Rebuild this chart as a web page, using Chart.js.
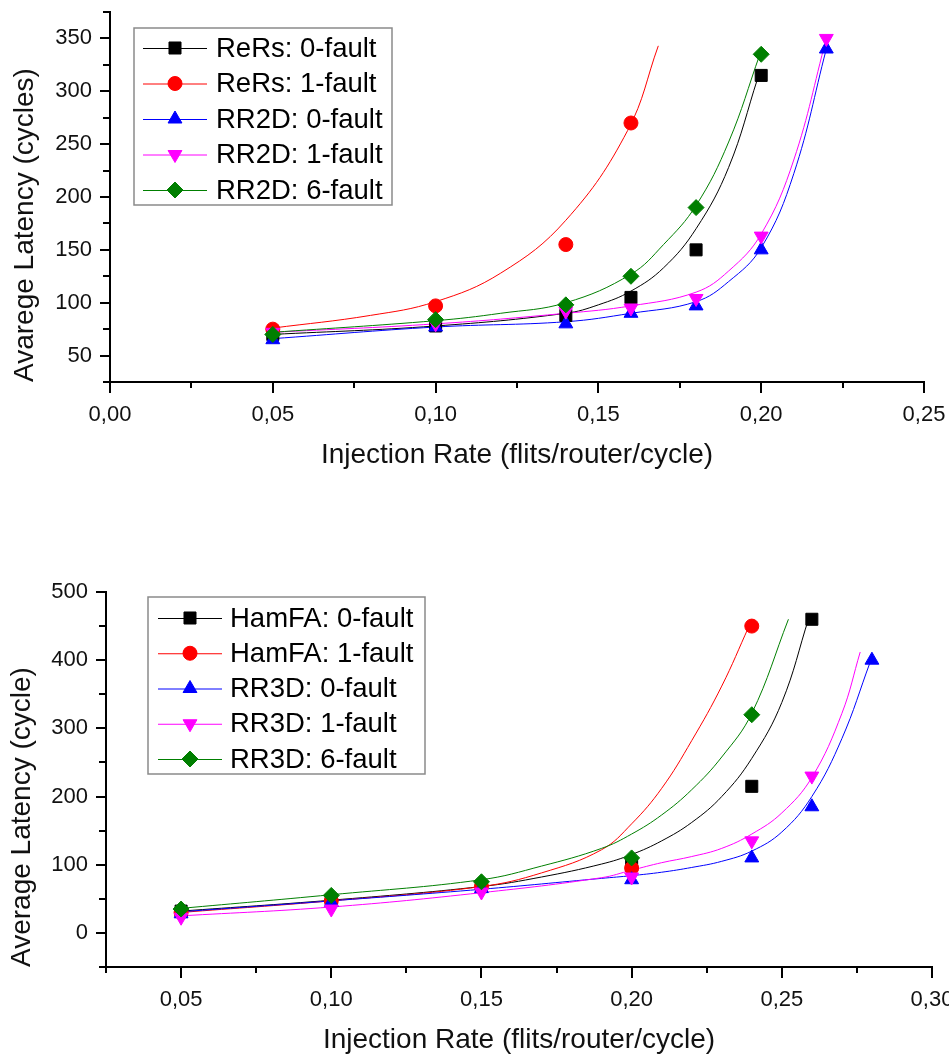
<!DOCTYPE html>
<html><head><meta charset="utf-8">
<script src="https://cdn.jsdelivr.net/npm/chart.js@4.4.0/dist/chart.umd.min.js"></script>
<style>
html,body{margin:0;padding:0;background:#fff;width:949px;height:1054px;overflow:hidden;}
#c1{position:absolute;left:0;top:0;}
#c2{position:absolute;left:0;top:560px;}
</style></head><body>
<canvas id="c1" width="949" height="490"></canvas>
<canvas id="c2" width="949" height="494"></canvas>
<script>
// ---------- Top chart data ----------
const topX = [0.05, 0.10, 0.14, 0.16, 0.18, 0.20, 0.22];
const topLabels = ['ReRs: 0-fault', 'ReRs: 1-fault', 'RR2D: 0-fault', 'RR2D: 1-fault', 'RR2D: 6-fault'];
const topReRs0 = [70, 78, 88, 105, 150, 315, null];
const topReRs1 = [75, 97, 155, 270, null, null, null];
const topRR2D0 = [65, 77, 80, 90, 97, 150, 340];
const topRR2D1 = [72, 80, 92, 95, 104, 163, 350];
const topRR2D6 = [70, 84, 98, 125, 190, 335, null];
// fitted curves
const fitTopReRs0X = [0.05, 0.10, 0.14, 0.15, 0.16, 0.17, 0.18, 0.19, 0.199];
const fitTopReRs0Y = [70, 78, 90, 98, 111, 133, 170, 228, 313];
const fitTopReRs1X = [0.05, 0.08, 0.10, 0.12, 0.14, 0.159, 0.1684];
const fitTopReRs1Y = [76, 88, 101, 128, 178, 263, 343];
const fitTopRR2D0X = [0.05, 0.10, 0.14, 0.16, 0.18, 0.19, 0.20, 0.21, 0.22];
const fitTopRR2D0Y = [66, 77, 82, 90, 101, 120, 152, 222, 340];
const fitTopRR2D1X = [0.05, 0.10, 0.14, 0.16, 0.18, 0.19, 0.20, 0.21, 0.22];
const fitTopRR2D1Y = [72, 80, 90, 97, 110, 130, 165, 235, 350];
const fitTopRR2D6X = [0.05, 0.10, 0.12, 0.14, 0.16, 0.17, 0.18, 0.19, 0.1996];
const fitTopRR2D6Y = [72, 83, 90, 100, 127, 155, 192, 252, 335];
const topYTitle = 'Avarege Latency (cycles)';
const xTitle = 'Injection Rate (flits/router/cycle)';

// ---------- Bottom chart data ----------
const botX = [0.05, 0.10, 0.15, 0.20, 0.24, 0.26, 0.28];
const botLabels = ['HamFA: 0-fault', 'HamFA: 1-fault', 'RR3D: 0-fault', 'RR3D: 1-fault', 'RR3D: 6-fault'];
const botHamFA0 = [32, 48, 68, 100, 215, 460, null];
const botHamFA1 = [30, 47, 68, 95, 450, null, null];
const botRR3D0 = [28, 45, 65, 78, 110, 185, 400];
const botRR3D1 = [23, 35, 60, 82, 135, 230, null];
const botRR3D6 = [35, 55, 75, 110, 320, null, null];
const fitBotHamFA0X = [0.05, 0.10, 0.15, 0.17, 0.19, 0.20, 0.21, 0.22, 0.23, 0.24, 0.25, 0.259];
const fitBotHamFA0Y = [32, 48, 68, 82, 101, 115, 135, 162, 200, 256, 338, 462];
const fitBotHamFA1X = [0.05, 0.10, 0.15, 0.17, 0.19, 0.20, 0.21, 0.22, 0.23, 0.239];
const fitBotHamFA1Y = [30, 47, 68, 88, 122, 160, 212, 282, 362, 449];
const fitBotRR3D0X = [0.05, 0.10, 0.15, 0.19, 0.20, 0.21, 0.22, 0.23, 0.24, 0.25, 0.26, 0.27, 0.2794];
const fitBotRR3D0Y = [31, 47, 64, 80, 84, 89, 96, 105, 120, 148, 200, 285, 397];
const fitBotRR3D1X = [0.05, 0.10, 0.15, 0.19, 0.20, 0.21, 0.22, 0.23, 0.24, 0.25, 0.26, 0.27, 0.2761];
const fitBotRR3D1Y = [25, 38, 59, 81, 92, 103, 112, 124, 145, 176, 228, 322, 412];
const fitBotRR3D6X = [0.05, 0.10, 0.15, 0.17, 0.19, 0.20, 0.21, 0.22, 0.23, 0.24, 0.2522];
const fitBotRR3D6Y = [36, 56, 78, 98, 124, 145, 173, 210, 258, 322, 460];
const botYTitle = 'Average Latency (cycle)';

// ---------- styles ----------
const FONT = "'Liberation Sans', Arial, Helvetica, sans-serif";
const styles = [
  {color: '#000000', pointStyle: 'rect', radius: 8.5, rotation: 0},
  {color: '#ff0000', pointStyle: 'circle', radius: 7, rotation: 0},
  {color: '#0000ff', pointStyle: 'triangle', radius: 8, rotation: 0},
  {color: '#ff00ff', pointStyle: 'triangle', radius: 8, rotation: 180},
  {color: '#007f00', pointStyle: 'rectRot', radius: 8, rotation: 0}
];

function isMult(v, step) {
  const r = v / step;
  return Math.abs(r - Math.round(r)) < 1e-6;
}

function buildDatasets(xs, series, fits, labels) {
  const ds = [];
  series.forEach((vals, i) => {
    const st = styles[i];
    const pts = [];
    xs.forEach((x, k) => { if (vals[k] !== null) pts.push({x: x, y: vals[k]}); });
    ds.push({
      label: labels[i], data: pts, showLine: false,
      pointStyle: st.pointStyle, pointRotation: st.rotation, pointRadius: st.radius,
      pointHoverRadius: st.radius,
      backgroundColor: st.color, borderColor: st.color, pointBorderWidth: 1,
      order: 4 - i, clip: false, isMarker: true, legendIndex: i
    });
  });
  fits.forEach((f, i) => {
    const pts = f[0].map((x, k) => ({x: x, y: f[1][k]}));
    ds.push({
      label: '', data: pts, showLine: true, pointRadius: 0, pointHoverRadius: 0,
      borderColor: styles[i].color, backgroundColor: styles[i].color, borderWidth: 1,
      tension: 0.4, fill: false, order: 10 + (4 - i), clip: false
    });
  });
  return ds;
}

const tickMarks = {
  id: 'tickMarks',
  afterDraw(chart, args, o) {
    const ctx = chart.ctx;
    const xs = chart.scales.x, ys = chart.scales.y;
    ctx.save();
    ctx.strokeStyle = '#000';
    ctx.lineWidth = 2;
    xs.ticks.forEach(t => {
      const px = Math.round(xs.getPixelForValue(t.value));
      const len = isMult(t.value, o.xMajor) ? 11 : 6;
      ctx.beginPath(); ctx.moveTo(px, xs.top); ctx.lineTo(px, xs.top + len); ctx.stroke();
    });
    ys.ticks.forEach(t => {
      const py = Math.round(ys.getPixelForValue(t.value));
      const len = isMult(t.value, o.yMajor) ? 10 : 7;
      ctx.beginPath(); ctx.moveTo(ys.right, py); ctx.lineTo(ys.right - len, py); ctx.stroke();
    });
    ctx.restore();
  }
};

const boxLegend = {
  id: 'boxLegend',
  afterDraw(chart, args, o) {
    const ctx = chart.ctx;
    ctx.save();
    ctx.fillStyle = '#fff';
    ctx.fillRect(o.x, o.y, o.w, o.h);
    ctx.strokeStyle = '#8a8a8a';
    ctx.lineWidth = 1.5;
    ctx.strokeRect(o.x, o.y, o.w, o.h);
    const markers = chart.data.datasets.filter(d => d.isMarker).sort((a, b) => a.legendIndex - b.legendIndex);
    markers.forEach((d, i) => {
      const y = o.firstY + i * o.step;
      ctx.strokeStyle = d.borderColor; ctx.lineWidth = 1;
      ctx.beginPath(); ctx.moveTo(o.x1, y + 0.5); ctx.lineTo(o.x2, y + 0.5); ctx.stroke();
      ctx.fillStyle = d.backgroundColor; ctx.strokeStyle = d.borderColor;
      Chart.helpers.drawPoint(ctx, {pointStyle: d.pointStyle, rotation: d.pointRotation, radius: d.pointRadius, borderWidth: 1}, (o.x1 + o.x2) / 2, y);
      ctx.fillStyle = '#000';
      ctx.font = o.fontSize + 'px ' + FONT;
      ctx.textBaseline = 'middle'; ctx.textAlign = 'left';
      ctx.fillText(d.label, o.textX, y + 1);
    });
    ctx.restore();
  }
};

function makeChart(id, datasets, c) {
  return new Chart(document.getElementById(id), {
    type: 'scatter',
    data: {datasets: datasets},
    plugins: [tickMarks, boxLegend],
    options: {
      responsive: false, animation: false, events: [],
      devicePixelRatio: 1,
      layout: {padding: {left: 0, right: c.padRight, top: c.padTop, bottom: 0}},
      plugins: {
        legend: {display: false}, tooltip: {enabled: false},
        tickMarks: {xMajor: c.xMajor, yMajor: c.yMajor},
        boxLegend: c.legend
      },
      scales: {
        x: {
          type: 'linear', min: c.xMin, max: c.xMax,
          grid: {display: true, drawOnChartArea: false, drawTicks: false},
          border: {display: true, color: '#000', width: 2},
          ticks: {
            stepSize: 0.025, autoSkip: false, maxRotation: 0, padding: 20,
            color: '#111', font: {family: FONT, size: 22},
            callback: v => isMult(v, c.xMajor) ? v.toFixed(2).replace('.', ',') : ''
          },
          title: {display: true, text: xTitle, color: '#111',
            font: {family: FONT, size: 28, lineHeight: 1},
            padding: {top: 0, bottom: c.xTitlePad}},
          afterFit: s => { s.height = c.xHeight; s.paddingLeft = 0; s.paddingRight = 0; }
        },
        y: {
          type: 'linear', min: c.yMin, max: c.yMax,
          grid: {display: true, drawOnChartArea: false, drawTicks: false},
          border: {display: true, color: '#000', width: 2},
          ticks: {
            stepSize: c.yStep, autoSkip: false, padding: 18,
            color: '#111', font: {family: FONT, size: 22},
            callback: v => isMult(v, c.yMajor) ? String(Math.round(v)) : ''
          },
          title: {display: true, text: c.yTitle, color: '#111', align: c.yAlign,
            font: {family: FONT, size: 28, lineHeight: 1},
            padding: {top: c.yTitlePad, bottom: 0}},
          afterFit: s => { s.width = c.yWidth; s.paddingTop = 0; s.paddingBottom = 0; }
        }
      }
    }
  });
}

makeChart('c1', buildDatasets(topX,
  [topReRs0, topReRs1, topRR2D0, topRR2D1, topRR2D6],
  [[fitTopReRs0X, fitTopReRs0Y], [fitTopReRs1X, fitTopReRs1Y], [fitTopRR2D0X, fitTopRR2D0Y],
   [fitTopRR2D1X, fitTopRR2D1Y], [fitTopRR2D6X, fitTopRR2D6Y]], topLabels), {
  padRight: 25, padTop: 12, xMin: 0, xMax: 0.25, xMajor: 0.05,
  yMin: 25, yMax: 375, yStep: 25, yMajor: 50, yTitle: topYTitle, yAlign: 'start',
  xHeight: 108, yWidth: 110, xTitlePad: 21, yTitlePad: 11,
  legend: {x: 134, y: 28, w: 258, h: 177, firstY: 48, step: 35.5, x1: 143, x2: 207, textX: 216, fontSize: 27.5}
});

makeChart('c2', buildDatasets(botX,
  [botHamFA0, botHamFA1, botRR3D0, botRR3D1, botRR3D6],
  [[fitBotHamFA0X, fitBotHamFA0Y], [fitBotHamFA1X, fitBotHamFA1Y], [fitBotRR3D0X, fitBotRR3D0Y],
   [fitBotRR3D1X, fitBotRR3D1Y], [fitBotRR3D6X, fitBotRR3D6Y]], botLabels), {
  padRight: 17, padTop: 32, xMin: 0.025, xMax: 0.30, xMajor: 0.05,
  yMin: -50, yMax: 500, yStep: 50, yMajor: 100, yTitle: botYTitle, yAlign: 'start',
  xHeight: 87, yWidth: 106, xTitlePad: 0, yTitlePad: 8,
  legend: {x: 148, y: 37, w: 277, h: 177, firstY: 58, step: 35.25, x1: 158, x2: 222, textX: 230, fontSize: 27.5}
});
</script>
</body></html>
